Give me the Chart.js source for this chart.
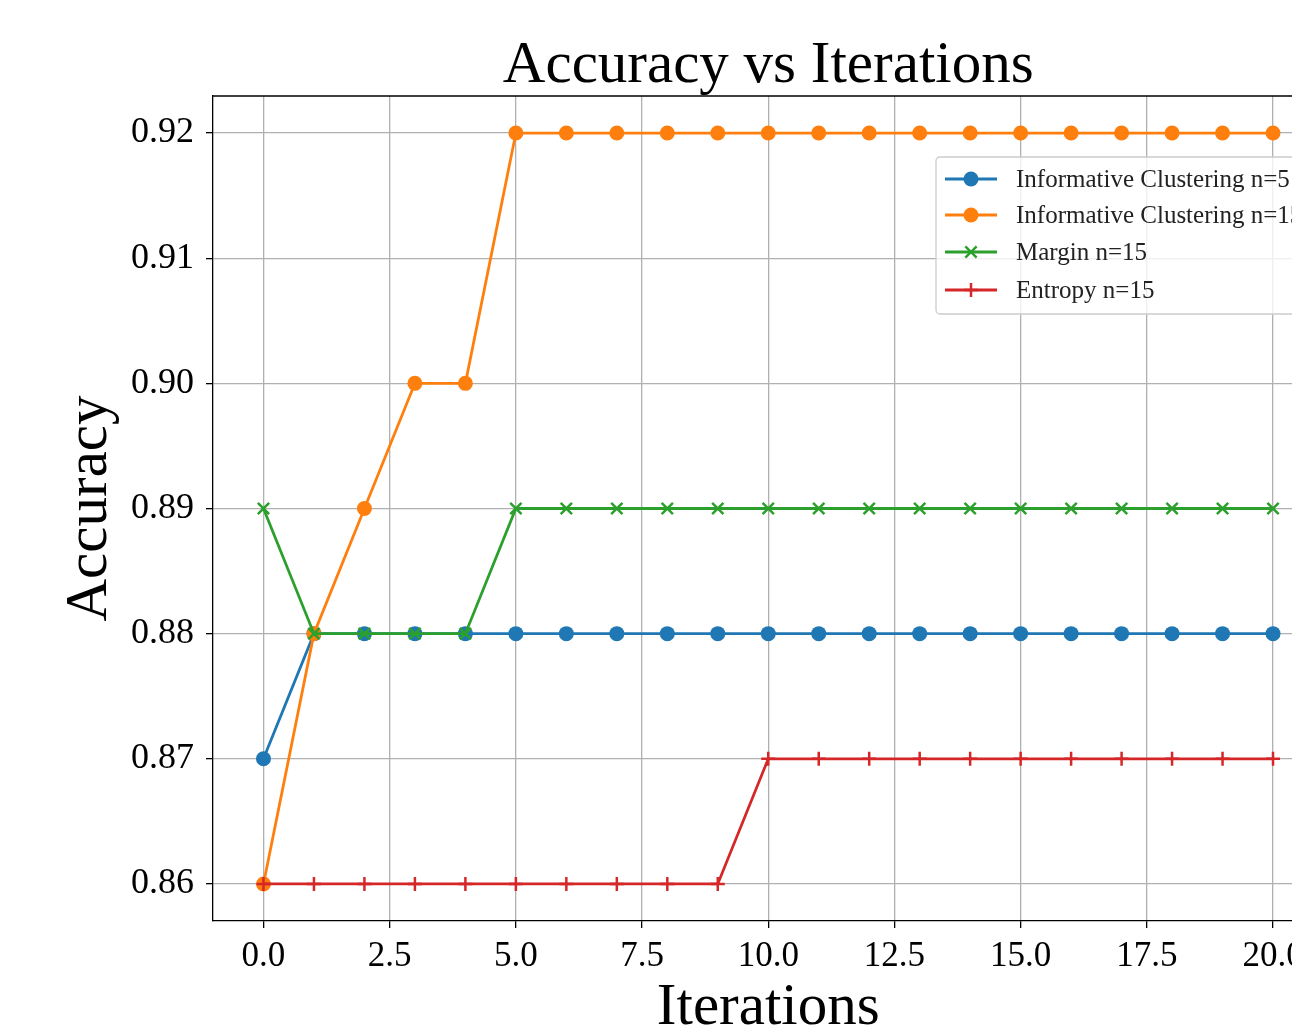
<!DOCTYPE html>
<html>
<head>
<meta charset="utf-8">
<script src="https://cdn.jsdelivr.net/npm/chart.js@4/dist/chart.umd.min.js"></script>
<style>
	html, body { margin: 0; padding: 0; background: #fff; overflow: hidden; }
	.chartBox { width: 1334px; height: 1030px; position: relative; }
</style>
</head>
<body>
<div class="chartBox"><canvas id="myChart"></canvas></div>
<script>
// data
const iterations = [0, 1, 2, 3, 4, 5, 6, 7, 8, 9, 10, 11, 12, 13, 14, 15, 16, 17, 18, 19, 20];
const icN5 = [0.87, 0.88, 0.88, 0.88, 0.88, 0.88, 0.88, 0.88, 0.88, 0.88, 0.88, 0.88, 0.88, 0.88, 0.88, 0.88, 0.88, 0.88, 0.88, 0.88, 0.88];
const icN15 = [0.86, 0.88, 0.89, 0.90, 0.90, 0.92, 0.92, 0.92, 0.92, 0.92, 0.92, 0.92, 0.92, 0.92, 0.92, 0.92, 0.92, 0.92, 0.92, 0.92, 0.92];
const marginN15 = [0.89, 0.88, 0.88, 0.88, 0.88, 0.89, 0.89, 0.89, 0.89, 0.89, 0.89, 0.89, 0.89, 0.89, 0.89, 0.89, 0.89, 0.89, 0.89, 0.89, 0.89];
const entropyN15 = [0.86, 0.86, 0.86, 0.86, 0.86, 0.86, 0.86, 0.86, 0.86, 0.86, 0.87, 0.87, 0.87, 0.87, 0.87, 0.87, 0.87, 0.87, 0.87, 0.87, 0.87];

const labels = ['Informative Clustering n=5', 'Informative Clustering n=15', 'Margin n=15', 'Entropy n=15'];
const xTicks = [0, 2.5, 5, 7.5, 10, 12.5, 15, 17.5, 20];
const yTicks = [0.86, 0.87, 0.88, 0.89, 0.90, 0.91, 0.92];

const serif = "'Liberation Serif', 'Times New Roman', serif";

function toPoints(ys) {
	return ys.map((y, i) => ({ x: iterations[i], y: y }));
}

function makeSet(label, ys, color, style, radius, order) {
	return {
		label: label,
		data: toPoints(ys),
		borderColor: color,
		backgroundColor: color,
		pointBackgroundColor: color,
		pointBorderColor: color,
		pointStyle: style,
		pointRadius: radius,
		pointHoverRadius: radius,
		pointBorderWidth: style === 'circle' ? 0 : 2.5,
		borderWidth: 2.8,
		tension: 0,
		order: order,
	};
}

const datasets = [
	makeSet(labels[0], icN5, '#1f77b4', 'circle', 7.5, 4),
	makeSet(labels[1], icN15, '#ff7f0e', 'circle', 7.5, 3),
	makeSet(labels[2], marginN15, '#2ca02c', 'crossRot', 8, 2),
	makeSet(labels[3], entropyN15, '#d62728', 'cross', 7, 1),
];

// top spine + legend inside the plot
const framePlugin = {
	id: 'frame',
	afterDraw(chart) {
		const { ctx, chartArea } = chart;
		ctx.save();
		ctx.strokeStyle = '#000';
		ctx.lineWidth = 1.3;
		ctx.beginPath();
		ctx.moveTo(chartArea.left, chartArea.top);
		ctx.lineTo(chartArea.right, chartArea.top);
		ctx.stroke();

		// legend box
		const bx = 936, by = 157, bw = 420, bh = 157;
		ctx.fillStyle = 'rgba(255,255,255,0.8)';
		ctx.strokeStyle = '#cccccc';
		ctx.lineWidth = 1.3;
		ctx.beginPath();
		ctx.roundRect(bx, by, bw, bh, 4);
		ctx.fill();
		ctx.stroke();

		const rows = [179, 215, 252, 290];
		ctx.font = '25px ' + serif;
		ctx.textBaseline = 'middle';
		chart.data.datasets.forEach((ds, i) => {
			const y = rows[i];
			ctx.strokeStyle = ds.borderColor;
			ctx.lineWidth = 2.8;
			ctx.beginPath();
			ctx.moveTo(945, y);
			ctx.lineTo(997, y);
			ctx.stroke();
			ctx.fillStyle = ds.borderColor;
			ctx.lineWidth = ds.pointBorderWidth || 1;
			if (ds.pointStyle === 'circle') {
				ctx.beginPath();
				ctx.arc(971, y, ds.pointRadius, 0, Math.PI * 2);
				ctx.fill();
			} else {
				Chart.helpers.drawPoint(ctx, {
					pointStyle: ds.pointStyle,
					radius: ds.pointRadius,
					borderWidth: ds.pointBorderWidth,
					rotation: 0,
				}, 971, y);
			}
			ctx.fillStyle = '#222';
			ctx.fillText(ds.label, 1016, y + 1);
		});
		ctx.restore();
	},
};

const config = {
	type: 'line',
	data: { datasets },
	options: {
		responsive: true,
		maintainAspectRatio: false,
		animation: false,
		layout: { padding: { left: 0, right: 0, top: 0, bottom: 0 } },
		plugins: {
			legend: { display: false },
			tooltip: { enabled: false },
			title: {
				display: true,
				text: 'Accuracy vs Iterations',
				color: '#000',
				fullSize: false,
				font: { family: serif, size: 59, weight: 'normal', lineHeight: 1 },
				padding: { top: 37, bottom: 0 },
			},
		},
		scales: {
			x: {
				type: 'linear',
				min: -1,
				max: 21,
				afterFit: (scale) => { scale.height = 109; },
				afterBuildTicks: (scale) => { scale.ticks = xTicks.map((v) => ({ value: v })); },
				grid: { color: '#b0b0b0', lineWidth: 1.3, tickLength: 7, tickColor: '#000', tickWidth: 1.3 },
				border: { display: true, color: '#000', width: 1.3 },
				ticks: {
					color: '#000',
					padding: 8,
					font: { family: serif, size: 35 },
					callback: (v) => Number(v).toFixed(1),
				},
				title: {
					display: true,
					text: 'Iterations',
					color: '#000',
					font: { family: serif, size: 59, lineHeight: 1 },
					padding: { top: 0, bottom: -8 },
				},
			},
			y: {
				type: 'linear',
				min: 0.85704,
				max: 0.92296,
				afterFit: (scale) => { scale.width = 213; },
				afterBuildTicks: (scale) => { scale.ticks = yTicks.map((v) => ({ value: v })); },
				grid: { color: '#b0b0b0', lineWidth: 1.3, tickLength: 7, tickColor: '#000', tickWidth: 1.3 },
				border: { display: true, color: '#000', width: 1.3 },
				ticks: {
					color: '#000',
					padding: 12,
					font: { family: serif, size: 36 },
					callback: (v) => Number(v).toFixed(2),
				},
				title: {
					display: true,
					text: 'Accuracy',
					color: '#000',
					font: { family: serif, size: 59, lineHeight: 1 },
					padding: { top: 61, bottom: 0 },
				},
			},
		},
	},
	plugins: [framePlugin],
};

const myChart = new Chart(document.getElementById('myChart'), config);
</script>
</body>
</html>
